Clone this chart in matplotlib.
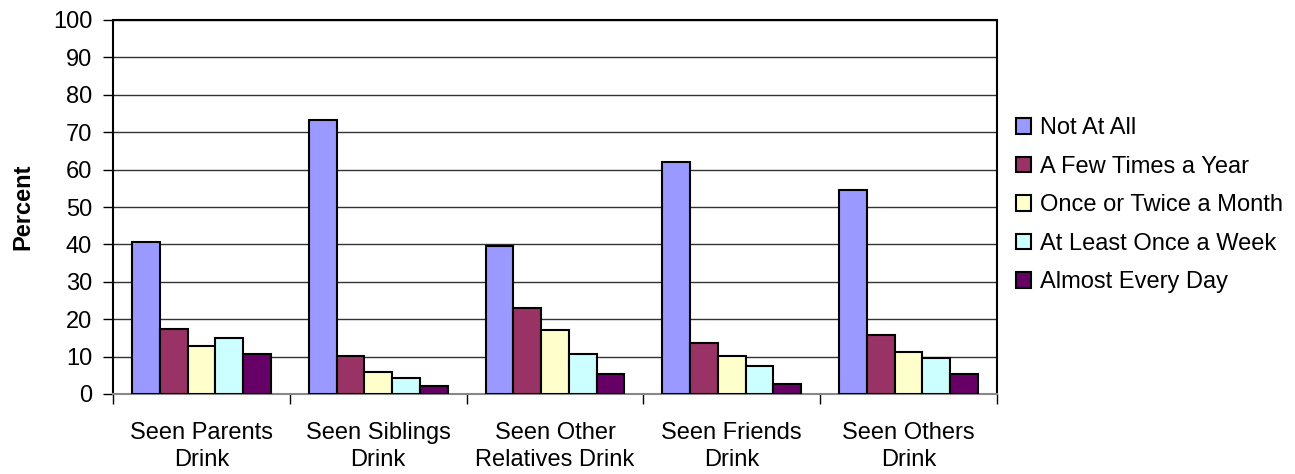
import numpy as np
import matplotlib.pyplot as plt

plt.rcParams['font.family'] = ['Liberation Sans', 'DejaVu Sans']

categories = ['Seen Parents\nDrink', 'Seen Siblings\nDrink', 'Seen Other\nRelatives Drink',
              'Seen Friends\nDrink', 'Seen Others\nDrink']
series_names = ['Not At All', 'A Few Times a Year', 'Once or Twice a Month',
                'At Least Once a Week', 'Almost Every Day']
not_at_all = [40.7, 73.3, 39.6, 62.0, 54.5]
few_times_year = [17.3, 10.2, 23.0, 13.6, 15.7]
once_twice_month = [12.8, 6.0, 17.1, 10.2, 11.2]
once_a_week = [15.1, 4.4, 10.6, 7.6, 9.6]
every_day = [10.6, 2.2, 5.3, 2.8, 5.4]
colors = ['#9999FF', '#993366', '#FFFFCC', '#CCFFFF', '#660066']

series = [not_at_all, few_times_year, once_twice_month, once_a_week, every_day]

fig = plt.figure(figsize=(12.95, 4.74), dpi=100)
ax = fig.add_axes([113/1295, 1-394/474, (997-113)/1295, (394-20)/474])

x = np.arange(len(categories))
w = 0.157
for i, (vals, c, name) in enumerate(zip(series, colors, series_names)):
    ax.bar(x + (i - 2) * w, vals, w, color=c, edgecolor='black', linewidth=1.5,
           label=name, zorder=3)

ax.set_xlim(-0.5, len(categories) - 0.5)
ax.set_ylim(0, 100)
ax.set_yticks(range(0, 101, 10))
ax.tick_params(axis='y', labelsize=17, length=7, width=1, direction='out', pad=8)
ax.yaxis.grid(True, color='#333333', linewidth=1, zorder=0)

# category labels at centers, tick marks at category boundaries
ax.set_xticks(x)
ax.set_xticklabels(categories, fontsize=17, linespacing=1.3)
ax.tick_params(axis='x', which='major', length=0, pad=20)
ax.set_xticks(np.arange(-0.5, len(categories)), minor=True)
ax.tick_params(axis='x', which='minor', length=7, width=1, direction='out')

for s in ax.spines.values():
    s.set_linewidth(1.5)
    s.set_color('black')
ax.spines['bottom'].set_color('#888888')

ax.set_ylabel('Percent', fontsize=17, fontweight='bold', labelpad=13)

fig.legend(loc='upper left', bbox_to_anchor=(995/1295, 1-96/474), frameon=False,
           fontsize=17, handlelength=0.62, handleheight=0.62, handletextpad=0.4,
           labelspacing=0.7)

fig.savefig('out.png', dpi=100)
